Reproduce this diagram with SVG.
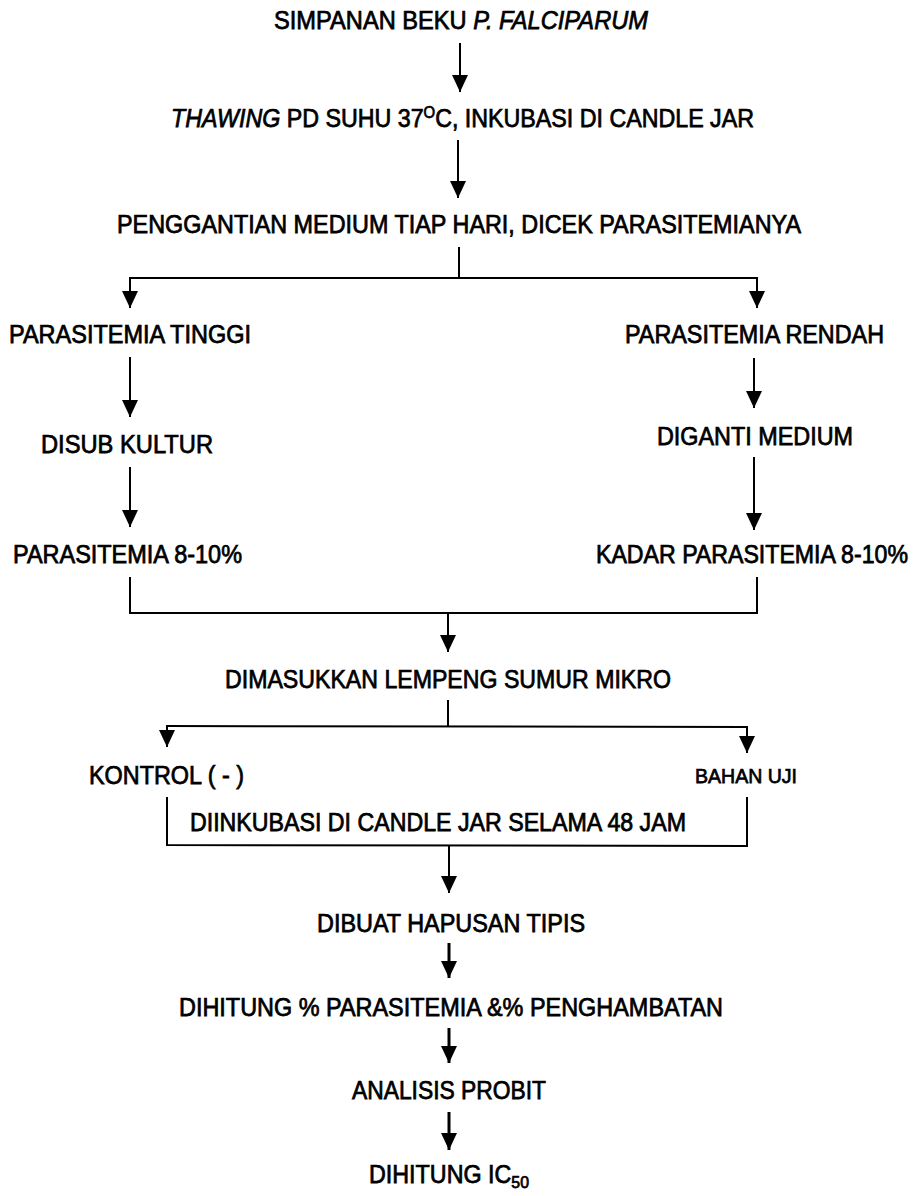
<svg xmlns="http://www.w3.org/2000/svg" width="913" height="1196" viewBox="0 0 913 1196">
<style>
text{font-family:"Liberation Sans",Arial,sans-serif;font-size:25px;fill:#000;stroke:#000;stroke-width:0.75}
.sm{font-size:21px}
.it{font-style:italic}
.c line,.c polyline{stroke:#000;stroke-width:2;fill:none}
.c .b{stroke-width:3}
</style>
<defs>
<marker id="ah" markerUnits="userSpaceOnUse" markerWidth="17" markerHeight="17" viewBox="0 0 17 16" refX="17" refY="8" orient="auto">
<path d="M0,0 L17,8 L0,16 z" fill="#000"/>
</marker>
</defs>
<rect width="913" height="1196" fill="#fff"/>
<g class="c" id="connectors">
<line x1="460" y1="43" x2="460" y2="92" marker-end="url(#ah)"/>
<line x1="458" y1="140" x2="458" y2="198" marker-end="url(#ah)"/>
<line x1="459" y1="247" x2="459" y2="278"/>
<line x1="130" y1="278" x2="757" y2="278"/>
<line x1="130" y1="277" x2="130" y2="308" marker-end="url(#ah)"/>
<line x1="757" y1="277" x2="757" y2="308" marker-end="url(#ah)"/>
<line x1="130" y1="357" x2="130" y2="417" marker-end="url(#ah)"/>
<line x1="754" y1="358" x2="754" y2="408" marker-end="url(#ah)"/>
<line x1="130" y1="467" x2="130" y2="527" marker-end="url(#ah)"/>
<line x1="754" y1="457" x2="754" y2="530" marker-end="url(#ah)"/>
<polyline points="130,577 130,613 757,613 757,577"/>
<line x1="448" y1="613" x2="448" y2="652" marker-end="url(#ah)"/>
<line x1="448" y1="700" x2="448" y2="727"/>
<line x1="167" y1="726" x2="747" y2="727"/>
<line x1="167" y1="725" x2="167" y2="747" marker-end="url(#ah)"/>
<line x1="747" y1="726" x2="747" y2="753" marker-end="url(#ah)"/>
<polyline points="167,797 167,845 747,846 747,797"/>
<line x1="449" y1="845" x2="449" y2="893" marker-end="url(#ah)"/>
<line class="b" x1="449" y1="943" x2="449" y2="978" marker-end="url(#ah)"/>
<line class="b" x1="449" y1="1028" x2="449" y2="1063" marker-end="url(#ah)"/>
<line class="b" x1="449" y1="1112" x2="449" y2="1150" marker-end="url(#ah)"/>
</g>
<g id="n1"><text x="274" y="29" textLength="374" lengthAdjust="spacingAndGlyphs">SIMPANAN BEKU <tspan class="it">P. FALCIPARUM</tspan></text></g>
<g id="n2"><text x="171" y="127" textLength="583" lengthAdjust="spacingAndGlyphs"><tspan class="it">THAWING</tspan> PD SUHU 37<tspan font-size="16" dy="-9">O</tspan><tspan dy="9">C, INKUBASI DI CANDLE JAR</tspan></text></g>
<g id="n3"><text x="117" y="233" textLength="684" lengthAdjust="spacingAndGlyphs">PENGGANTIAN MEDIUM TIAP HARI, DICEK PARASITEMIANYA</text></g>
<g id="n4"><text x="9" y="343" textLength="242" lengthAdjust="spacingAndGlyphs">PARASITEMIA TINGGI</text></g>
<g id="n5"><text x="625" y="343" textLength="259" lengthAdjust="spacingAndGlyphs">PARASITEMIA RENDAH</text></g>
<g id="n6"><text x="41" y="453" textLength="172" lengthAdjust="spacingAndGlyphs">DISUB KULTUR</text></g>
<g id="n7"><text x="657" y="445" textLength="196" lengthAdjust="spacingAndGlyphs">DIGANTI MEDIUM</text></g>
<g id="n8"><text x="13" y="563" textLength="229" lengthAdjust="spacingAndGlyphs">PARASITEMIA 8-10%</text></g>
<g id="n9"><text x="596" y="563" textLength="312" lengthAdjust="spacingAndGlyphs">KADAR PARASITEMIA 8-10%</text></g>
<g id="n10"><text x="225" y="688" textLength="446" lengthAdjust="spacingAndGlyphs">DIMASUKKAN LEMPENG SUMUR MIKRO</text></g>
<g id="n11"><text x="89" y="784" textLength="155" lengthAdjust="spacingAndGlyphs">KONTROL ( - )</text></g>
<g id="n12"><text class="sm" x="695" y="783" textLength="102" lengthAdjust="spacingAndGlyphs">BAHAN UJI</text></g>
<g id="n13"><text x="190" y="831" textLength="496" lengthAdjust="spacingAndGlyphs">DIINKUBASI DI CANDLE JAR SELAMA 48 JAM</text></g>
<g id="n14"><text x="317" y="932" textLength="268" lengthAdjust="spacingAndGlyphs">DIBUAT HAPUSAN TIPIS</text></g>
<g id="n15"><text x="179" y="1016" textLength="544" lengthAdjust="spacingAndGlyphs">DIHITUNG % PARASITEMIA &amp;% PENGHAMBATAN</text></g>
<g id="n16"><text x="352" y="1099" textLength="194" lengthAdjust="spacingAndGlyphs">ANALISIS PROBIT</text></g>
<g id="n17"><text x="369" y="1183" textLength="160" lengthAdjust="spacingAndGlyphs">DIHITUNG IC<tspan font-size="17" dy="5">50</tspan></text></g>
</svg>
